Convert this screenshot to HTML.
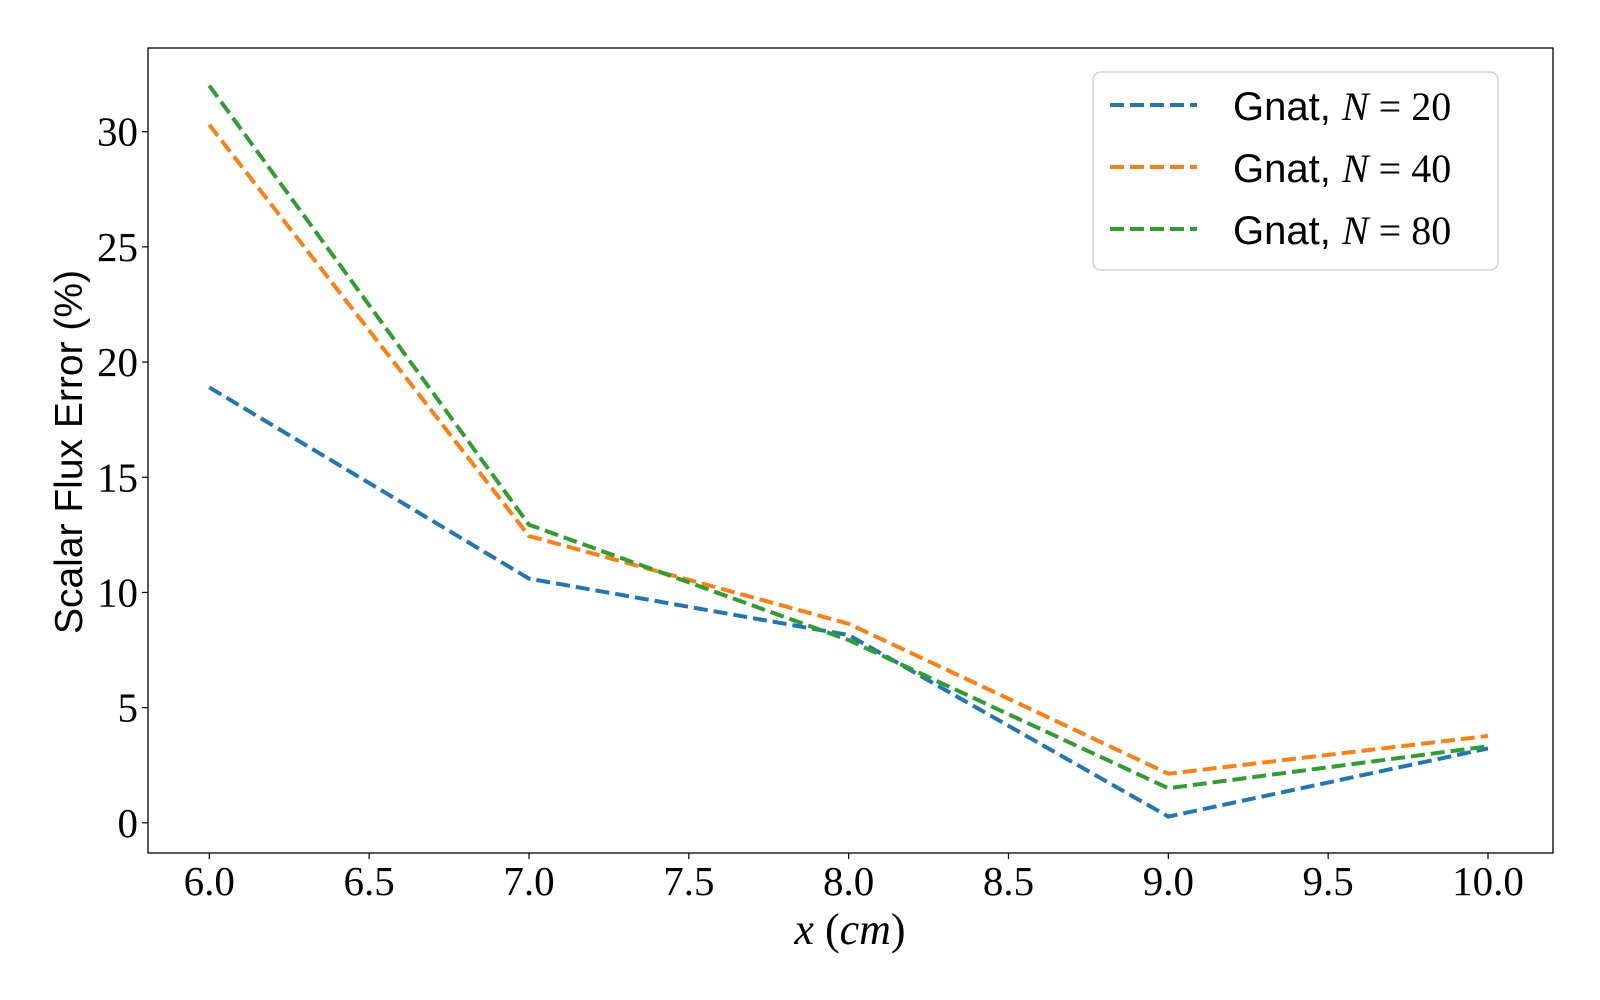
<!DOCTYPE html>
<html><head><meta charset="utf-8"><style>
html,body{margin:0;padding:0;background:#fff;}
svg{display:block;}
.tick{font-family:"Liberation Serif",serif;font-size:41px;fill:#000;}
</style></head><body>
<svg id="chart" width="1600" height="1000" xmlns="http://www.w3.org/2000/svg">
<rect x="0" y="0" width="1600" height="1000" fill="#fff"/>
<g id="plot"></g>
</svg>
<script>
const categories = [6, 7, 8, 9, 10];
const seriesN20 = [18.9, 10.6, 8.15, 0.27, 3.23];
const seriesN40 = [30.3, 12.45, 8.64, 2.13, 3.77];
const seriesN80 = [32.0, 12.94, 7.93, 1.5, 3.32];
const xTicks = ["6.0","6.5","7.0","7.5","8.0","8.5","9.0","9.5","10.0"];
const yTicks = ["0","5","10","15","20","25","30"];

const L=148,R=1553,T=48,B=853;
function xs(v){return 209.3+(v-6)*(1488-209.3)/4;}
function ys(v){return 822.8-v*(822.8-131.7)/30;}
const NS="http://www.w3.org/2000/svg";
const g=document.getElementById('plot');
function mk(tag,attrs){const e=document.createElementNS(NS,tag);for(const k in attrs)e.setAttribute(k,attrs[k]);g.appendChild(e);return e;}

const series=[[seriesN20,"#1f77b4","20"],[seriesN40,"#ff7f0e","40"],[seriesN80,"#2ca02c","80"]];
series.forEach(s=>{
  const p=mk('polyline',{points:categories.map((c,i)=>xs(c)+','+ys(s[0][i])).join(' '),fill:'none',stroke:s[1],'stroke-width':4,'stroke-dasharray':'14,6'});
  
  
});

const frame=mk('rect',{x:L,y:T,width:R-L,height:B-T,fill:'none',stroke:'#000','stroke-width':1.3});



xTicks.forEach(t=>{
  const x=xs(parseFloat(t));
  mk('line',{x1:x,x2:x,y1:B,y2:B+6,stroke:'#000','stroke-width':1.2});
  const tx=mk('text',{x:x,y:B+42,'text-anchor':'middle',class:'tick'});
  tx.textContent=t;
  
  
});
yTicks.forEach(t=>{
  const y=ys(parseFloat(t));
  mk('line',{x1:L-6,x2:L,y1:y,y2:y,stroke:'#000','stroke-width':1.2});
  const tx=mk('text',{x:L-10,y:y+14,'text-anchor':'end',class:'tick'});
  tx.textContent=t;
  
  
});

const xl=mk('text',{x:850,y:944,'text-anchor':'middle','font-family':'Liberation Serif, serif','font-size':44});
xl.innerHTML='<tspan font-style="italic">x</tspan> (<tspan font-style="italic">cm</tspan>)';



const yl=mk('text',{x:0,y:0,'text-anchor':'middle','font-family':'Liberation Sans, sans-serif','font-size':39,transform:'translate(82,452) rotate(-90)'});
yl.textContent='Scalar Flux Error (%)';



const lg=mk('rect',{x:1093,y:72,width:405,height:198,rx:8,fill:'#fff',stroke:'#ccc','stroke-width':1.3});


series.forEach((s,i)=>{
  const y=105+i*62;
  const ln=mk('line',{x1:1110,x2:1197,y1:y,y2:y,stroke:s[1],'stroke-width':4,'stroke-dasharray':'14,6'});
  
  
  const tx=mk('text',{x:1233,y:y+15,'font-size':40,'font-family':'Liberation Sans, sans-serif'});
  tx.innerHTML='Gnat, <tspan font-family="Liberation Serif, serif" font-style="italic">N</tspan><tspan font-family="Liberation Serif, serif"> = '+s[2]+'</tspan>';
  
  
});
</script>
</body></html>
